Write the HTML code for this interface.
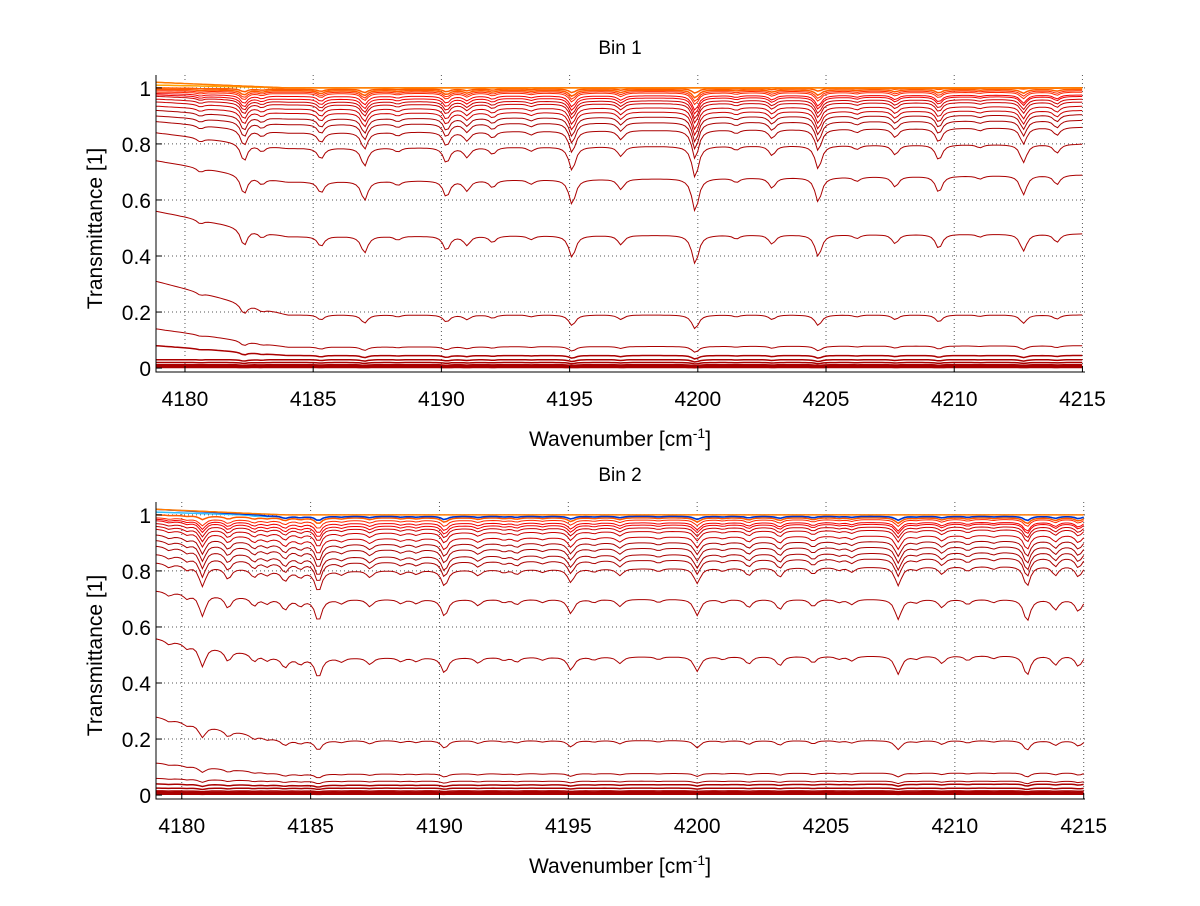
<!DOCTYPE html>
<html><head><meta charset="utf-8"><style>
body{margin:0;background:#fff;}
svg text{font-family:"Liberation Sans",sans-serif;fill:#000;}
</style></head><body>
<svg id="fig" width="1200" height="901" viewBox="0 0 1200 901">
<rect width="1200" height="901" fill="#fff"/>
</svg>
<script>
// ---- data ----
const bin1Lines = [4182.3,4185.3,4187.0,4190.2,4191.0,4192.0,4195.1,4197.0,4199.9,4202.9,4204.7,4207.7,4209.4,4212.7,4214.0,4180.6,4183.0,4188.3,4193.5,4201.5,4206.2,4211.0];
const bin1Strength = [0.19,0.11,0.19,0.16,0.10,0.07,0.25,0.10,0.34,0.10,0.25,0.10,0.16,0.19,0.09,0.04,0.06,0.04,0.04,0.04,0.04,0.03];
const bin1Start = [0.002,0.004,0.008,0.012,0.02,0.03,0.08,0.14,0.31,0.56,0.74,0.84,0.88,0.9,0.92,0.935,0.95,0.96,0.97,0.975,0.98,0.985,0.99,0.995,1.0,1.01,1.02];
const bin1Mid = [0.002,0.004,0.008,0.012,0.02,0.03,0.045,0.075,0.19,0.47,0.665,0.785,0.84,0.87,0.89,0.91,0.925,0.94,0.95,0.96,0.97,0.98,0.985,0.99,0.995,1.0,1.0];
const bin1End = [0.002,0.004,0.008,0.012,0.02,0.03,0.045,0.08,0.19,0.48,0.69,0.8,0.86,0.885,0.905,0.92,0.935,0.95,0.96,0.97,0.975,0.985,0.99,0.995,1.0,1.0,1.0];

const bin2Lines = [4180.8,4181.8,4182.8,4184.0,4185.3,4187.3,4190.2,4191.5,4193.0,4195.1,4197.0,4200.0,4202.0,4203.2,4204.5,4206.0,4207.8,4209.5,4210.5,4212.8,4213.9,4214.8,4179.5,4180.2,4183.3,4184.6,4186.2,4188.5,4189.1,4192.5,4194.0,4196.0,4198.5,4201.0,4205.5,4208.5,4211.5];
const bin2Strength = [0.22,0.12,0.08,0.10,0.22,0.07,0.17,0.06,0.05,0.14,0.07,0.16,0.08,0.10,0.07,0.05,0.20,0.08,0.05,0.22,0.10,0.12,0.04,0.05,0.05,0.06,0.04,0.04,0.04,0.03,0.03,0.03,0.03,0.03,0.03,0.03,0.03];
const bin2Start = [0.003,0.006,0.01,0.015,0.025,0.04,0.06,0.115,0.28,0.56,0.73,0.83,0.86,0.89,0.91,0.93,0.95,0.96,0.97,0.98,0.985,0.99,1.0,1.01,1.02,1.02];
const bin2Mid = [0.003,0.006,0.01,0.015,0.025,0.035,0.05,0.075,0.195,0.49,0.70,0.80,0.83,0.85,0.875,0.895,0.915,0.935,0.95,0.96,0.97,0.98,0.99,0.995,0.995,1.0];
const bin2End = [0.003,0.006,0.01,0.015,0.025,0.04,0.05,0.08,0.195,0.5,0.70,0.82,0.85,0.87,0.89,0.91,0.93,0.95,0.96,0.97,0.975,0.985,0.99,0.995,0.995,1.0];

const xTicks = [4180,4185,4190,4195,4200,4205,4210,4215];
const yTicks = [0,0.2,0.4,0.6,0.8,1];
const yTickLabels = ["0","0.2","0.4","0.6","0.8","1"];

// ---- drawing ----
const NS="http://www.w3.org/2000/svg";
const svg=document.getElementById('fig');
function mk(tag,attrs,parent){const e=document.createElementNS(NS,tag);for(const k in attrs)e.setAttribute(k,attrs[k]);(parent||svg).appendChild(e);return e;}

function colorFor(i,n,mid,blue){
  if(mid[i]<0.9) return '#aa0000';
  if(mid[i]<0.955) return '#cc0000';
  if(mid[i]<0.975) return '#f00000';
  if(mid[i]<0.988) return '#ff2a00';
  if(blue && i===n-2) return '#0030d0';
  if(blue && i===n-3) return '#30c0ff';
  if(i===n-1) return '#ff7a00';
  if(mid[i]<0.997) return '#ff5a00';
  return '#ffa000';
}

function panel(cfg){
  const g=mk('g',{});
  
  
  const X=v=>cfg.px0+(v-cfg.xmin)/(cfg.xmax-cfg.xmin)*(cfg.px1-cfg.px0);
  const Y=v=>cfg.py1-(v-cfg.ymin)/(cfg.ymax-cfg.ymin)*(cfg.py1-cfg.py0);
  xTicks.forEach(t=>{const l=mk('line',{x1:X(t),x2:X(t),y1:cfg.py0,y2:cfg.py1,stroke:'#555','stroke-dasharray':'1,3','stroke-width':1},g);
    });
  yTicks.forEach(t=>{if(t===0)return;const l=mk('line',{x1:cfg.px0,x2:cfg.px1,y1:Y(t),y2:Y(t),stroke:'#555','stroke-dasharray':'1,3','stroke-width':1},g);
    });
  const n=cfg.start.length;
  const xs=[];for(let x=cfg.xmin;x<=cfg.xmax+1e-9;x+=0.12)xs.push(x);
  for(let i=0;i<n;i++){
    let d='';
    xs.forEach((x,k)=>{
      let c;
      if(x<4184) c=cfg.start[i]+(cfg.mid[i]-cfg.start[i])*(x-cfg.xmin)/(4184-cfg.xmin);
      else c=cfg.mid[i]+(cfg.end[i]-cfg.mid[i])*(x-4184)/(cfg.xmax-4184);
      let tau=0;
      for(let j=0;j<cfg.lines.length;j++){const w=0.15;const dx=x-cfg.lines[j];tau+=cfg.strength[j]*w*w/(dx*dx+w*w);}
      const t=c*Math.exp(-Math.sqrt(Math.max(0,1-Math.min(c,1)))*tau);
      d+=(k?'L':'M')+X(x).toFixed(1)+','+Y(t).toFixed(1);
    });
    const p=mk('path',{d:d,fill:'none',stroke:colorFor(i,n,cfg.mid,cfg.blue),'stroke-width':(cfg.mid[i]<0.05?1.5:(cfg.mid[i]>0.985?1.5:1))},g);
    
    
  }
  const ax=mk('path',{d:`M${cfg.px0},${cfg.py0}V${cfg.py1}H${cfg.px1}`,fill:'none',stroke:'#000','stroke-width':1},g);
  
  xTicks.forEach(t=>{mk('line',{x1:X(t),x2:X(t),y1:cfg.py1,y2:cfg.py1-6,stroke:'#000'},g);
    const tx=mk('text',{x:X(t),y:cfg.py1+34,'font-size':21,'text-anchor':'middle'},g);tx.textContent=t;
    });
  yTicks.forEach((t,k)=>{mk('line',{x1:cfg.px0,x2:cfg.px0+6,y1:Y(t),y2:Y(t),stroke:'#000'},g);
    const tx=mk('text',{x:cfg.px0-5,y:Y(t)+8,'font-size':21,'text-anchor':'end'},g);tx.textContent=yTickLabels[k];
    });
  const ti=mk('text',{x:620,y:cfg.py0-21,'font-size':19,'text-anchor':'middle'},g);ti.textContent=cfg.title;
  
  const xl=mk('text',{x:620,y:cfg.py1+74,'font-size':21,'text-anchor':'middle'},g);
  xl.innerHTML='Wavenumber [cm<tspan dy="-8" font-size="14">-1</tspan><tspan dy="8">]</tspan>';
  
  const cy=(cfg.py0+cfg.py1)/2+5;
  const yl=mk('text',{x:0,y:0,'font-size':21,'text-anchor':'middle',transform:`translate(102,${cy}) rotate(-90)`},g);yl.textContent='Transmittance [1]';
  
}
panel({name:'bin-1-panel',title:'Bin 1',xmin:4178.87,xmax:4215.1,px0:156,px1:1085,ymin:-0.014,ymax:1.046,py0:75,py1:372,blue:false,
  lines:bin1Lines,strength:bin1Strength,start:bin1Start,mid:bin1Mid,end:bin1End});
panel({name:'bin-2-panel',title:'Bin 2',xmin:4179.0,xmax:4215.05,px0:156,px1:1085,ymin:-0.014,ymax:1.046,py0:502,py1:799,blue:true,
  lines:bin2Lines,strength:bin2Strength,start:bin2Start,mid:bin2Mid,end:bin2End});
</script>
</body></html>
